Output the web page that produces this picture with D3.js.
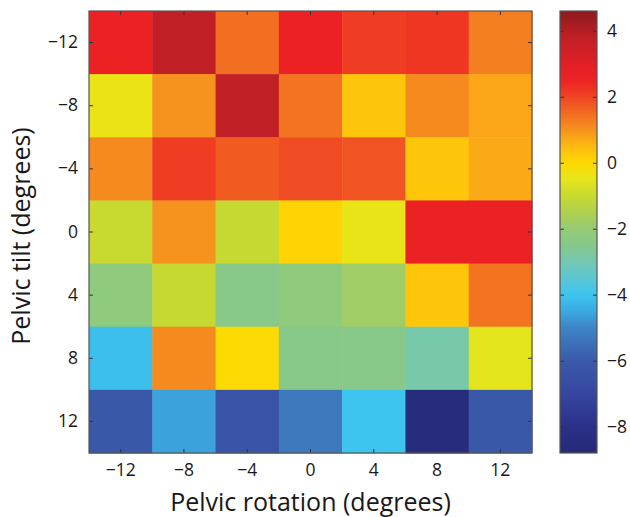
<!DOCTYPE html>
<html>
<head>
<meta charset="utf-8">
<script src="https://cdn.jsdelivr.net/npm/d3@7"></script>
<style>
  body { margin: 0; background: #fff; }
  text { font-family: "Open Sans", "Noto Sans", sans-serif; fill: #1a1718; }
</style>
</head>
<body>
<div id="chart"></div>
<script>
// pelvic rotation (columns) and pelvic tilt (rows)
var rotations = [-12, -8, -4, 0, 4, 8, 12];
var tilts = [-12, -8, -4, 0, 4, 8, 12];

// one array per tilt row, values
var rowM12 = [2.6, 3.8, 1.45, 2.6, 2.1, 2.2, 1.25];
var rowM8  = [-0.4, 1.0, 3.8, 1.4, 0.3, 1.1, 0.75];
var rowM4  = [1.1, 2.1, 1.7, 1.9, 1.8, 0.3, 0.7];
var row0   = [-1.0, 1.0, -1.05, 0.1, -0.45, 2.6, 2.6];
var row4   = [-2.2, -1.05, -2.45, -2.2, -1.8, 0.3, 1.4];
var row8   = [-4.1, 1.1, -0.05, -2.45, -2.45, -2.9, -0.55];
var row12  = [-6.1, -4.6, -6.3, -5.3, -4.0, -8.6, -6.1];
var rows = [rowM12, rowM8, rowM4, row0, row4, row8, row12];

var colorTicks = [4, 2, 0, -2, -4, -6, -8];
var colorDomain = [-8.8, 4.6];

// colormap stops
var stopValues = [-8.8, -8, -7, -6, -5, -4.5, -4, -3.5, -3, -2.5, -2, -1.5, -1, -0.5, 0, 0.5, 1, 1.5, 2, 2.5, 3, 3.8, 4.6];
var stopColors = ["#262a78", "#2b3088", "#3746a0", "#3a5aa9", "#3f85c6", "#3aa9e1", "#3dc5ef", "#5cc7d2", "#74c8b2",
                  "#86c88a", "#96cb74", "#b0d04e", "#c8da30", "#e6e51a", "#ffd900", "#fdba12", "#f6921e", "#f26b21",
                  "#ef4423", "#ed2224", "#e11f26", "#c11f26", "#8b1a1d"];

var W = 630, H = 517;
var plot = {left: 89, top: 11, width: 443, height: 442};
var bar = {left: 560, top: 11, width: 37, height: 442};

var color = d3.scaleLinear().domain(stopValues).range(stopColors).clamp(true);

var svg = d3.select("#chart").append("svg")
    .attr("width", W)
    .attr("height", H);

var cells = [];
rows.forEach(function(r, i) {
    r.forEach(function(v, j) {
        cells.push({tilt: tilts[i], rot: rotations[j], value: v});
    });
});

var x = d3.scaleBand().domain(rotations).range([0, plot.width]);
var y = d3.scaleBand().domain(tilts).range([0, plot.height]);

var g = svg.append("g")
    .attr("transform", "translate(" + plot.left + "," + plot.top + ")");

g.selectAll("rect.cell")
    .data(cells)
    .enter()
    .append("rect")
    .attr("class", "cell")
    .attr("x", function(d) { return x(d.rot); })
    .attr("y", function(d) { return y(d.tilt); })
    .attr("width", x.bandwidth() + 0.5)
    .attr("height", y.bandwidth() + 0.5)
    .attr("fill", function(d) { return color(d.value); });

// axes with inward ticks on all four sides (matlab style)
function styleAxis(sel) {
    sel.select(".domain").remove();
    sel.selectAll(".tick line").attr("stroke", "#333").attr("stroke-width", 1);
    sel.selectAll("text").style("font-size", "17.5px");
}

var fmt = function(d) { return d < 0 ? "\u2212" + Math.abs(d) : String(d); };

g.append("g")
    .attr("transform", "translate(0," + plot.height + ")")
    .call(d3.axisBottom(x).tickSize(-4).tickPadding(11).tickFormat(fmt))
    .call(styleAxis);

g.append("g")
    .call(d3.axisTop(x).tickSize(-4).tickFormat(""))
    .call(styleAxis);

g.append("g")
    .call(d3.axisLeft(y).tickSize(-4).tickPadding(11).tickFormat(fmt))
    .call(styleAxis);

g.append("g")
    .attr("transform", "translate(" + plot.width + ",0)")
    .call(d3.axisRight(y).tickSize(-4).tickFormat(""))
    .call(styleAxis);

g.append("rect")
    .attr("width", plot.width)
    .attr("height", plot.height)
    .attr("fill", "none")
    .attr("stroke", "#555")
    .attr("stroke-width", 1.2);

// axis titles
svg.append("text")
    .attr("x", plot.left + plot.width / 2)
    .attr("y", 510.5)
    .attr("text-anchor", "middle")
    .style("font-size", "25px")
    .text("Pelvic rotation (degrees)");

svg.append("text")
    .attr("transform", "translate(30," + (plot.top + plot.height / 2 + 4) + ")rotate(-90)")
    .attr("text-anchor", "middle")
    .style("font-size", "25px")
    .text("Pelvic tilt (degrees)");

// colour bar
var cy = d3.scaleLinear().domain(colorDomain).range([bar.height, 0]);

var defs = svg.append("defs");
var grad = defs.append("linearGradient")
    .attr("id", "cbar")
    .attr("x1", 0).attr("y1", 1)
    .attr("x2", 0).attr("y2", 0);

grad.selectAll("stop")
    .data(stopValues)
    .enter()
    .append("stop")
    .attr("offset", function(d) { return (d - colorDomain[0]) / (colorDomain[1] - colorDomain[0]); })
    .attr("stop-color", function(d) { return color(d); });

var cb = svg.append("g")
    .attr("transform", "translate(" + bar.left + "," + bar.top + ")");

cb.append("rect")
    .attr("width", bar.width)
    .attr("height", bar.height)
    .attr("fill", "url(#cbar)");

cb.append("g")
    .attr("transform", "translate(" + bar.width + ",0)")
    .call(d3.axisRight(cy).tickValues(colorTicks).tickSize(-4).tickPadding(10).tickFormat(fmt))
    .call(styleAxis);

cb.append("g")
    .call(d3.axisLeft(cy).tickValues(colorTicks).tickSize(-4).tickFormat(""))
    .call(styleAxis);

cb.append("rect")
    .attr("width", bar.width)
    .attr("height", bar.height)
    .attr("fill", "none")
    .attr("stroke", "#555")
    .attr("stroke-width", 1.2);
</script>
</body>
</html>
